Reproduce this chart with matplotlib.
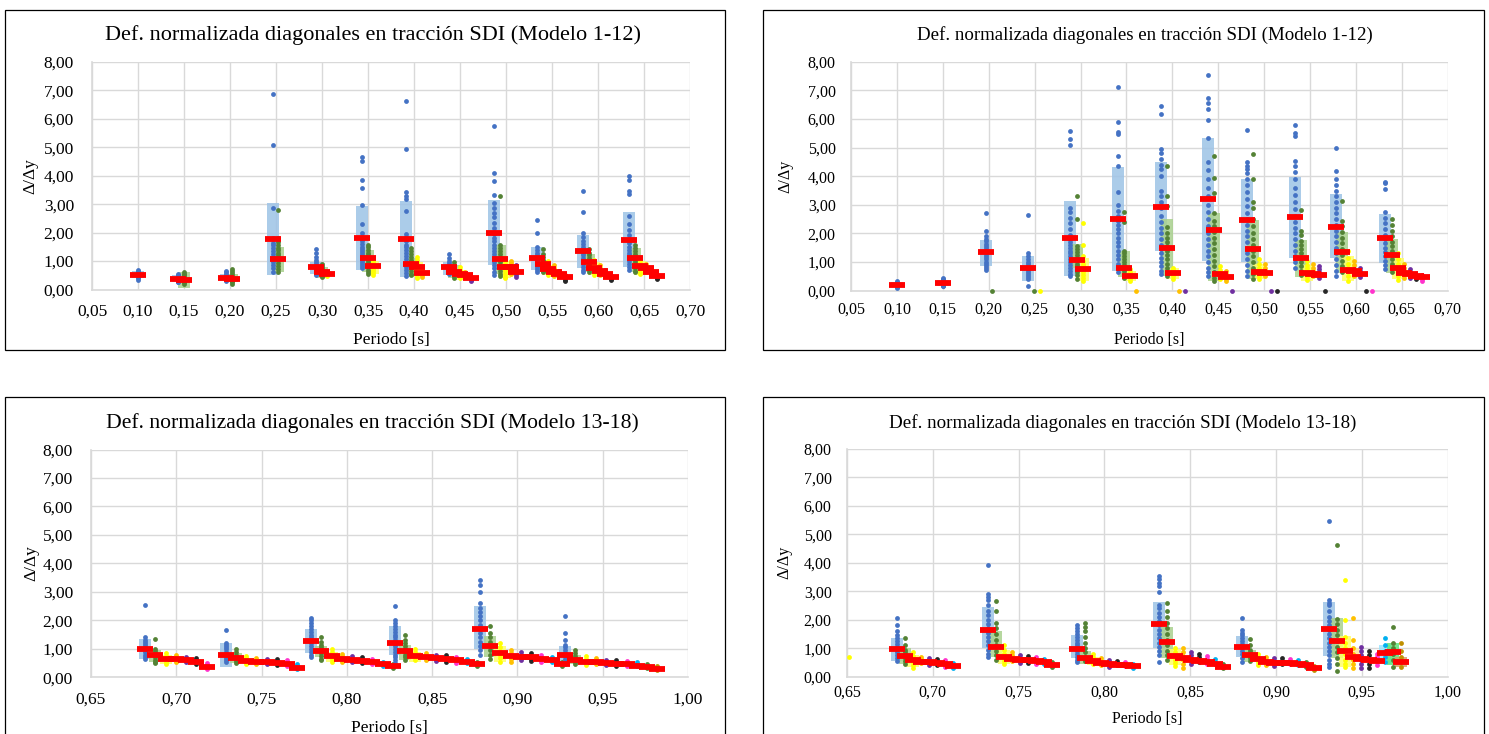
import matplotlib.pyplot as plt
from matplotlib.patches import Rectangle
from matplotlib.ticker import MultipleLocator, FuncFormatter

plt.rcParams['font.family'] = ['Liberation Serif', 'DejaVu Serif']

# colores de cada modelo dentro de un grupo (puntos y cajas)
col_pts = ['#4472C4', '#548235', '#FFFF00', '#FFC000', '#7030A0', '#262626',
           '#FF33CC', '#00B0F0', '#548235', '#BF8F00']
col_caja = ['#9DC3E6', '#A9D18E', '#FFFF66', '#FFE699', '#C9A0DC', '#A6A6A6',
            '#FF99E6', '#9BE3FF', '#5CE67A', '#D9A066']

# ---------------- Modelo 1-12, lado izquierdo ----------------
tl_x0 = [0.100, 0.1435, 0.196, 0.2467, 0.2935, 0.3435, 0.391, 0.4377, 0.4873, 0.534, 0.5841, 0.634]
tl_medias = [
    [0.52],
    [0.36, 0.32],
    [0.42, 0.38],
    [1.77, 1.08],
    [0.78, 0.63, 0.54],
    [1.81, 1.10, 0.82],
    [1.77, 0.89, 0.79, 0.57],
    [0.79, 0.63, 0.56, 0.52, 0.40],
    [1.97, 1.06, 0.80, 0.78, 0.61],
    [1.10, 0.89, 0.73, 0.61, 0.56, 0.45],
    [1.35, 0.97, 0.75, 0.64, 0.55, 0.43],
    [1.74, 1.10, 0.81, 0.74, 0.61, 0.48],
]
tl_cajas = [
    [(0.40, 0.65)],
    [(0.25, 0.50), (0.05, 0.60)],
    [(0.30, 0.55), (0.25, 0.55)],
    [(0.50, 3.03), (0.63, 1.51)],
    [(0.55, 0.95), (0.42, 0.80)],
    [(0.68, 2.92), (0.60, 1.40), (0.55, 1.00)],
    [(0.43, 3.11), (0.55, 1.10), (0.45, 0.95)],
    [(0.50, 0.95), (0.40, 0.85), (0.35, 0.70)],
    [(0.86, 3.13), (0.53, 1.58), (0.40, 1.00)],
    [(0.70, 1.49), (0.60, 1.05), (0.50, 0.85)],
    [(0.75, 1.90), (0.60, 1.25), (0.50, 0.95)],
    [(0.79, 2.71), (0.60, 1.45), (0.50, 1.00)],
]
tl_puntos = [
    [[0.35, 0.40, 0.43, 0.46, 0.48, 0.50, 0.52, 0.54, 0.56, 0.58, 0.60, 0.63, 0.66, 0.70]],
    [[0.25, 0.28, 0.30, 0.32, 0.35, 0.38, 0.40, 0.42, 0.45, 0.48, 0.52, 0.55],
     [0.20, 0.25, 0.28, 0.32, 0.35, 0.40, 0.45, 0.50, 0.55, 0.60]],
    [[0.30, 0.33, 0.36, 0.40, 0.43, 0.46, 0.50, 0.55, 0.62, 0.66],
     [0.20, 0.25, 0.30, 0.35, 0.40, 0.45, 0.50, 0.58, 0.66, 0.72]],
    [[6.87, 5.07, 2.87, 1.80, 1.65, 1.55, 1.45, 1.35, 1.25, 1.15, 1.05, 0.95, 0.85, 0.75, 0.62],
     [2.79, 1.80, 1.68, 1.55, 1.45, 1.38, 1.30, 1.22, 1.12, 1.02, 0.92, 0.82, 0.72, 0.62]],
    [[1.42, 1.28, 1.15, 1.02, 0.95, 0.88, 0.82, 0.76, 0.70, 0.62, 0.55, 0.50],
     [0.90, 0.82, 0.75, 0.68, 0.62, 0.55, 0.48, 0.45],
     [0.62, 0.55, 0.50, 0.47]],
    [[4.67, 4.52, 3.85, 3.57, 2.96, 2.29, 2.00, 1.80, 1.70, 1.60, 1.50, 1.42, 1.35, 1.28, 1.20,
      1.12, 1.05, 0.98, 0.90, 0.82, 0.75],
     [1.55, 1.48, 1.38, 1.30, 1.22, 1.15, 1.08, 1.00, 0.92, 0.85, 0.78, 0.70, 0.62, 0.55],
     [1.05, 0.95, 0.88, 0.80, 0.72, 0.65, 0.58, 0.52]],
    [[6.62, 4.95, 3.43, 3.30, 3.18, 2.75, 1.95, 1.85, 1.70, 1.58, 1.48, 1.38, 1.28, 1.18, 1.08,
      0.98, 0.88, 0.78, 0.68, 0.58, 0.48],
     [1.45, 1.35, 1.25, 1.15, 1.05, 0.95, 0.85, 0.75, 0.65, 0.55, 0.50],
     [1.15, 1.05, 0.95, 0.85, 0.75, 0.65, 0.55, 0.45, 0.40],
     [0.72, 0.65, 0.58, 0.50, 0.45]],
    [[1.26, 1.12, 1.00, 0.92, 0.85, 0.78, 0.72, 0.66, 0.60, 0.55],
     [0.95, 0.85, 0.78, 0.70, 0.62, 0.55, 0.48, 0.42],
     [0.80, 0.70, 0.62, 0.55, 0.48, 0.40],
     [0.62, 0.55, 0.50, 0.45],
     [0.45, 0.40, 0.35, 0.30]],
    [[5.76, 4.08, 3.80, 3.31, 3.05, 2.85, 2.70, 2.55, 2.35, 2.15, 1.95, 1.82, 1.70, 1.58, 1.45,
      1.35, 1.25, 1.15, 1.05, 0.95, 0.85, 0.75, 0.62, 0.52],
     [3.29, 1.55, 1.45, 1.35, 1.25, 1.15, 1.05, 0.95, 0.85, 0.75, 0.65, 0.55, 0.48],
     [1.10, 1.00, 0.90, 0.80, 0.72, 0.65, 0.55, 0.45, 0.40],
     [1.00, 0.92, 0.85, 0.78, 0.70, 0.62, 0.55],
     [0.85, 0.75, 0.65, 0.58, 0.50, 0.45]],
    [[2.46, 1.98, 1.50, 1.40, 1.30, 1.20, 1.12, 1.05, 0.98, 0.90, 0.82, 0.75, 0.68, 0.60],
     [1.44, 1.25, 1.15, 1.05, 0.95, 0.88, 0.80, 0.72, 0.65, 0.60],
     [1.00, 0.90, 0.80, 0.72, 0.65, 0.58, 0.52],
     [0.85, 0.75, 0.68, 0.60, 0.52, 0.48],
     [0.65, 0.58, 0.52, 0.48],
     [0.50, 0.42, 0.35, 0.31]],
    [[3.47, 2.72, 2.00, 1.85, 1.72, 1.60, 1.50, 1.40, 1.30, 1.20, 1.10, 1.00, 0.90, 0.80, 0.70, 0.62],
     [1.42, 1.30, 1.20, 1.10, 1.00, 0.92, 0.85, 0.78, 0.70, 0.62],
     [1.05, 0.95, 0.85, 0.75, 0.68, 0.60, 0.52],
     [0.85, 0.75, 0.68, 0.60, 0.52],
     [0.68, 0.60, 0.55, 0.48],
     [0.48, 0.42, 0.38, 0.35]],
    [[3.98, 3.84, 3.45, 3.35, 2.58, 2.30, 2.10, 1.90, 1.75, 1.62, 1.50, 1.40, 1.30, 1.20, 1.10,
      1.00, 0.90, 0.80, 0.70],
     [1.55, 1.45, 1.35, 1.25, 1.15, 1.05, 0.95, 0.85, 0.75, 0.65, 0.60],
     [1.10, 1.00, 0.90, 0.80, 0.72, 0.62, 0.55],
     [0.90, 0.82, 0.75, 0.68, 0.60],
     [0.72, 0.65, 0.58, 0.52],
     [0.52, 0.45, 0.40, 0.37]],
]

# ---------------- Modelo 1-12, lado derecho ----------------
tr_x0 = [0.100, 0.150, 0.1967, 0.2427, 0.2891, 0.3405, 0.3876, 0.4389, 0.4811, 0.5333, 0.5783, 0.6322]
tr_medias = [
    [0.21],
    [0.28],
    [1.34, None],
    [0.78, None, None],
    [1.83, 1.06, 0.75],
    [2.52, 0.80, 0.50, None],
    [2.94, 1.50, 0.61, None, None],
    [3.22, 2.12, 0.58, 0.48, None],
    [2.47, 1.45, 0.66, 0.61, None, None],
    [2.58, 1.13, 0.63, 0.60, 0.55, None],
    [2.24, 1.36, 0.72, 0.68, 0.57, None, None],
    [1.83, 1.24, 0.78, 0.63, 0.57, 0.52, 0.49],
]
tr_cajas = [
    [(0.12, 0.32)],
    [(0.18, 0.38)],
    [(0.87, 1.77)],
    [(0.35, 1.20)],
    [(0.52, 3.14), (0.78, 1.62), (0.35, 1.13)],
    [(0.70, 4.31), (0.49, 1.38), (0.35, 0.70)],
    [(1.37, 4.50), (0.52, 2.51), (0.40, 0.80)],
    [(1.05, 5.34), (0.34, 2.71)],
    [(1.01, 3.91), (0.40, 2.47), (0.40, 0.95)],
    [(1.15, 3.98), (0.47, 1.77), (0.35, 0.90)],
    [(1.13, 3.38), (0.63, 2.05), (0.35, 1.20)],
    [(0.96, 2.68), (0.61, 1.81), (0.40, 1.15)],
]
tr_puntos = [
    [[0.08, 0.12, 0.15, 0.18, 0.20, 0.22, 0.25, 0.28, 0.31, 0.35]],
    [[0.15, 0.18, 0.21, 0.24, 0.27, 0.30, 0.33, 0.36, 0.40, 0.45]],
    [[2.73, 2.10, 1.92, 1.82, 1.72, 1.62, 1.55, 1.48, 1.40, 1.32, 1.25, 1.18, 1.10, 1.02, 0.95,
      0.88, 0.80, 0.72],
     [0.0]],
    [[2.66, 1.33, 1.20, 1.10, 1.00, 0.92, 0.85, 0.78, 0.70, 0.62, 0.55, 0.48, 0.40, 0.16],
     [0.0], [0.0]],
    [[5.58, 5.30, 5.09, 2.90, 2.75, 2.55, 2.35, 2.15, 1.95, 1.80, 1.70, 1.60, 1.50, 1.40, 1.30,
      1.20, 1.10, 1.00, 0.90, 0.80, 0.70, 0.60, 0.52],
     [3.32, 2.52, 1.55, 1.45, 1.35, 1.25, 1.15, 1.05, 0.95, 0.85, 0.75, 0.65, 0.55, 0.41],
     [2.37, 1.59, 1.20, 1.05, 0.95, 0.85, 0.75, 0.65, 0.55, 0.45, 0.35]],
    [[7.12, 5.90, 5.55, 5.48, 4.71, 4.35, 3.45, 3.00, 2.80, 2.60, 2.45, 2.30, 2.15, 2.00, 1.85,
      1.70, 1.55, 1.40, 1.25, 1.10, 0.95, 0.80, 0.65],
     [2.75, 2.40, 1.40, 1.30, 1.20, 1.10, 1.00, 0.90, 0.80, 0.70, 0.60, 0.50, 0.45],
     [0.75, 0.65, 0.58, 0.50, 0.42, 0.35],
     [0.0]],
    [[6.46, 6.18, 4.94, 4.80, 4.60, 4.40, 4.25, 4.00, 3.50, 3.30, 3.10, 2.90, 2.60, 2.40, 2.20,
      2.00, 1.80, 1.60, 1.45, 1.30, 1.15, 1.00, 0.85, 0.70, 0.60],
     [4.37, 3.30, 2.97, 2.22, 2.00, 1.85, 1.70, 1.55, 1.40, 1.25, 1.10, 0.95, 0.80, 0.65, 0.52],
     [0.80, 0.72, 0.65, 0.58, 0.50, 0.42],
     [0.0], [0.0]],
    [[7.53, 6.73, 6.55, 6.34, 5.95, 5.35, 4.50, 4.20, 3.90, 3.60, 3.30, 3.00, 2.75, 2.50, 2.25,
      2.00, 1.80, 1.60, 1.40, 1.20, 1.00, 0.80, 0.65, 0.50],
     [4.69, 3.92, 3.40, 2.70, 2.45, 2.25, 2.05, 1.85, 1.65, 1.45, 1.25, 1.05, 0.85, 0.65, 0.45, 0.35],
     [0.85, 0.72, 0.62, 0.55, 0.48, 0.40],
     [0.70, 0.60, 0.50, 0.42, 0.35],
     [0.0]],
    [[5.62, 4.49, 4.35, 4.25, 4.10, 3.90, 3.70, 3.45, 3.20, 2.95, 2.70, 2.50, 2.30, 2.10, 1.90,
      1.70, 1.50, 1.30, 1.10, 0.90, 0.70, 0.53],
     [4.78, 3.91, 3.10, 2.90, 2.50, 2.25, 2.00, 1.80, 1.60, 1.40, 1.20, 1.00, 0.80, 0.60, 0.40],
     [1.10, 0.95, 0.80, 0.70, 0.60, 0.50, 0.42],
     [0.95, 0.80, 0.70, 0.60, 0.50],
     [0.0], [0.0]],
    [[5.78, 5.50, 5.41, 4.53, 4.35, 4.15, 3.90, 3.60, 3.35, 3.10, 2.85, 2.60, 2.40, 2.20, 2.00,
      1.80, 1.60, 1.40, 1.20, 1.00, 0.80],
     [2.82, 2.10, 1.95, 1.75, 1.60, 1.45, 1.30, 1.15, 1.00, 0.85, 0.70, 0.55],
     [1.05, 0.90, 0.78, 0.68, 0.58, 0.48, 0.38],
     [0.95, 0.80, 0.70, 0.60, 0.50],
     [0.85, 0.75, 0.65, 0.55, 0.45],
     [0.0]],
    [[4.97, 4.19, 3.90, 3.70, 3.50, 3.30, 3.10, 2.90, 2.70, 2.50, 2.30, 2.10, 1.90, 1.70, 1.50,
      1.30, 1.10, 0.90, 0.70, 0.50],
     [3.15, 2.45, 2.25, 2.05, 1.85, 1.65, 1.45, 1.25, 1.05, 0.85, 0.65],
     [1.40, 1.15, 0.95, 0.80, 0.65, 0.50, 0.35],
     [1.05, 0.90, 0.75, 0.62, 0.50],
     [0.78, 0.68, 0.58, 0.48],
     [0.0], [0.0]],
    [[3.81, 3.75, 3.57, 2.75, 2.55, 2.35, 2.15, 1.95, 1.80, 1.65, 1.50, 1.35, 1.20, 1.05, 0.90, 0.75],
     [2.51, 2.30, 2.10, 1.90, 1.70, 1.55, 1.40, 1.25, 1.10, 0.95, 0.80, 0.65],
     [1.30, 1.10, 0.95, 0.80, 0.65, 0.50, 0.38],
     [0.95, 0.80, 0.68, 0.55, 0.45],
     [0.75, 0.65, 0.55, 0.45],
     [0.55, 0.45, 0.40],
     [0.55, 0.48, 0.42, 0.35]],
]

# ---------------- Modelo 13-18, lado izquierdo ----------------
bl_x0 = [0.6818, 0.729, 0.779, 0.8282, 0.878, 0.928]
bl_medias = [
    [1.01, 0.78, 0.64, 0.64, 0.61, 0.52, 0.37],
    [0.79, 0.69, 0.58, 0.54, 0.52, 0.50, 0.46, 0.34],
    [1.28, 0.93, 0.75, 0.65, 0.62, 0.58, 0.55, 0.48, 0.40],
    [1.22, 0.92, 0.75, 0.70, 0.68, 0.65, 0.60, 0.55, 0.45],
    [1.68, 1.10, 0.85, 0.75, 0.72, 0.70, 0.65, 0.60, 0.45],
    [0.78, 0.60, 0.55, 0.52, 0.50, 0.48, 0.45, 0.40, 0.35, 0.30],
]
bl_cajas = [
    [(0.64, 1.34), (0.55, 0.95), (0.45, 0.80)],
    [(0.37, 1.19), (0.50, 0.85)],
    [(0.84, 1.68), (0.70, 1.10), (0.55, 0.90)],
    [(0.80, 1.80), (0.60, 1.15), (0.55, 0.90)],
    [(1.00, 2.50), (0.70, 1.45), (0.55, 1.10)],
    [(0.50, 1.10), (0.45, 0.80)],
]
bl_puntos = [
    [[2.54, 1.40, 1.32, 1.25, 1.18, 1.10, 1.02, 0.95, 0.88, 0.80, 0.72, 0.65],
     [1.34, 1.00, 0.92, 0.85, 0.78, 0.70, 0.62, 0.55, 0.50],
     [0.85, 0.75, 0.68, 0.60, 0.52, 0.45],
     [0.80, 0.72, 0.65, 0.58, 0.52],
     [0.72, 0.65, 0.58, 0.52],
     [0.68, 0.60, 0.52, 0.45],
     [0.50, 0.42, 0.35, 0.30]],
    [[1.67, 1.20, 1.12, 1.05, 0.98, 0.90, 0.82, 0.75, 0.68, 0.60, 0.52],
     [1.01, 0.88, 0.80, 0.72, 0.65, 0.58, 0.50],
     [0.75, 0.68, 0.60, 0.52, 0.45],
     [0.68, 0.60, 0.52, 0.45],
     [0.65, 0.58, 0.50, 0.45],
     [0.65, 0.58, 0.50, 0.44],
     [0.60, 0.52, 0.45, 0.38],
     [0.45, 0.38, 0.30]],
    [[2.10, 2.00, 1.90, 1.80, 1.70, 1.60, 1.50, 1.40, 1.30, 1.20, 1.10, 1.00, 0.90, 0.80, 0.70],
     [1.40, 1.25, 1.15, 1.05, 0.95, 0.85, 0.75, 0.65, 0.60],
     [1.00, 0.90, 0.80, 0.72, 0.65, 0.55],
     [0.82, 0.75, 0.68, 0.60, 0.52],
     [0.75, 0.68, 0.60, 0.52],
     [0.72, 0.65, 0.58, 0.50],
     [0.65, 0.58, 0.50, 0.45],
     [0.55, 0.48, 0.40],
     [0.45, 0.38, 0.32]],
    [[2.52, 2.00, 1.90, 1.80, 1.70, 1.60, 1.50, 1.40, 1.30, 1.20, 1.10, 1.00, 0.90, 0.80, 0.70,
      0.60, 0.50],
     [1.50, 1.30, 1.20, 1.10, 1.00, 0.90, 0.80, 0.70, 0.60],
     [1.00, 0.90, 0.80, 0.70, 0.60],
     [0.85, 0.78, 0.70, 0.62],
     [0.80, 0.72, 0.65, 0.58],
     [0.78, 0.70, 0.62, 0.55],
     [0.72, 0.65, 0.58, 0.50],
     [0.65, 0.58, 0.50],
     [0.52, 0.45, 0.38]],
    [[3.40, 3.25, 3.00, 2.60, 2.45, 2.30, 2.15, 2.00, 1.85, 1.70, 1.55, 1.40, 1.25, 1.10, 0.95, 0.80],
     [1.80, 1.55, 1.40, 1.25, 1.10, 0.95, 0.80, 0.65],
     [1.20, 1.05, 0.92, 0.80, 0.68, 0.55],
     [0.95, 0.85, 0.75, 0.65, 0.55],
     [0.90, 0.80, 0.70, 0.60],
     [0.85, 0.75, 0.65, 0.58],
     [0.80, 0.70, 0.62, 0.55],
     [0.72, 0.62, 0.55],
     [0.55, 0.45, 0.38]],
    [[2.15, 1.55, 1.30, 1.15, 1.05, 0.95, 0.85, 0.75, 0.65, 0.55, 0.45],
     [0.95, 0.85, 0.75, 0.65, 0.55, 0.48],
     [0.75, 0.65, 0.58, 0.50, 0.42],
     [0.68, 0.60, 0.52, 0.45],
     [0.62, 0.55, 0.48, 0.42],
     [0.60, 0.52, 0.45, 0.40],
     [0.58, 0.50, 0.42, 0.38],
     [0.52, 0.45, 0.38],
     [0.45, 0.38, 0.32],
     [0.38, 0.32, 0.26]],
]

# ---------------- Modelo 13-18, lado derecho ----------------
br_x0 = [0.679, 0.732, 0.784, 0.8318, 0.8801, 0.9308]
br_medias = [
    [0.97, 0.72, 0.58, 0.52, 0.50, 0.48, 0.45, 0.38],
    [1.64, 1.05, 0.70, 0.62, 0.58, 0.58, 0.55, 0.50, 0.40],
    [0.98, 0.65, 0.56, 0.47, 0.45, 0.42, 0.40, 0.38],
    [1.84, 1.21, 0.74, 0.65, 0.59, 0.55, 0.52, 0.45, 0.35],
    [1.05, 0.76, 0.61, 0.53, 0.48, 0.48, 0.48, 0.45, 0.40, 0.32],
    [1.68, 1.26, 0.91, 0.70, 0.61, 0.58, 0.56, 0.82, 0.85, 0.52],
]
br_cajas = [
    [(0.55, 1.35), (0.45, 1.00), (0.35, 0.75)],
    [(1.00, 2.45), (0.70, 1.60), (0.45, 0.95)],
    [(0.65, 1.45), (0.45, 0.90), (0.40, 0.70)],
    [(1.00, 2.63), (0.65, 1.73), (0.40, 0.98)],
    [(0.68, 1.42), (0.50, 0.95)],
    [(0.74, 2.63), (0.65, 2.05), (0.33, 1.44), (0.55, 1.00), None, None, None,
     (0.45, 1.10), (0.40, 1.20), (0.35, 0.70)],
]
br_puntos = [
    [[2.05, 1.80, 1.60, 1.45, 1.35, 1.25, 1.15, 1.05, 0.95, 0.85, 0.75, 0.65, 0.55],
     [1.35, 1.10, 0.95, 0.85, 0.75, 0.65, 0.55, 0.45],
     [0.85, 0.72, 0.62, 0.52, 0.42, 0.30],
     [0.70, 0.62, 0.55, 0.48],
     [0.65, 0.58, 0.50, 0.42],
     [0.62, 0.55, 0.48, 0.40],
     [0.58, 0.50, 0.42, 0.35],
     [0.48, 0.40, 0.32]],
    [[3.92, 2.90, 2.80, 2.70, 2.50, 2.30, 2.15, 2.00, 1.85, 1.70, 1.55, 1.40, 1.25, 1.10, 0.95,
      0.80, 0.70],
     [2.65, 2.30, 1.90, 1.70, 1.50, 1.30, 1.10, 0.90, 0.75, 0.60],
     [1.10, 0.95, 0.80, 0.68, 0.55, 0.45],
     [0.85, 0.75, 0.65, 0.55],
     [0.75, 0.65, 0.55, 0.48],
     [0.72, 0.62, 0.55, 0.48],
     [0.70, 0.60, 0.52, 0.45],
     [0.62, 0.52, 0.45],
     [0.50, 0.42, 0.35]],
    [[1.80, 1.70, 1.60, 1.50, 1.40, 1.30, 1.20, 1.10, 1.00, 0.90, 0.80, 0.70, 0.60, 0.50],
     [1.87, 1.75, 1.60, 1.40, 1.20, 1.00, 0.85, 0.70, 0.55],
     [0.80, 0.70, 0.60, 0.52, 0.45],
     [0.65, 0.55, 0.48, 0.40],
     [0.58, 0.50, 0.42, 0.35],
     [0.55, 0.48, 0.40],
     [0.52, 0.45, 0.38],
     [0.45, 0.38, 0.32]],
    [[3.53, 3.42, 3.30, 3.18, 2.96, 2.52, 2.40, 2.25, 2.10, 1.95, 1.80, 1.65, 1.50, 1.35, 1.20,
      1.05, 0.90, 0.75, 0.51],
     [2.60, 2.30, 2.10, 1.90, 1.70, 1.50, 1.30, 1.10, 0.90, 0.75, 0.60],
     [1.00, 0.85, 0.72, 0.60, 0.48, 0.38],
     [1.00, 0.85, 0.72, 0.60, 0.45, 0.32],
     [0.85, 0.75, 0.65, 0.55, 0.45],
     [0.80, 0.70, 0.60, 0.50],
     [0.72, 0.62, 0.52, 0.45],
     [0.62, 0.52, 0.45],
     [0.45, 0.38, 0.32]],
    [[2.06, 1.65, 1.55, 1.45, 1.35, 1.25, 1.15, 1.00, 0.90, 0.80, 0.65, 0.53],
     [1.31, 1.10, 0.95, 0.85, 0.75, 0.65, 0.55],
     [0.80, 0.70, 0.60, 0.50, 0.40],
     [0.70, 0.60, 0.50, 0.40],
     [0.65, 0.55, 0.45, 0.38],
     [0.65, 0.55, 0.45],
     [0.62, 0.52, 0.45],
     [0.60, 0.50, 0.42],
     [0.50, 0.42, 0.35],
     [0.38, 0.30, 0.25]],
    [[5.45, 2.69, 2.60, 2.50, 2.30, 2.10, 1.95, 1.80, 1.65, 1.50, 1.35, 1.20, 1.05, 0.90, 0.75,
      0.60, 0.45, 0.35],
     [4.63, 2.02, 1.85, 1.65, 1.45, 1.25, 1.05, 0.85, 0.65, 0.45, 0.20],
     [3.39, 2.00, 1.40, 1.20, 1.00, 0.80, 0.60, 0.45, 0.33],
     [2.05, 1.30, 1.00, 0.80, 0.60, 0.45, 0.30],
     [1.05, 0.90, 0.75, 0.60, 0.45, 0.30],
     [0.90, 0.75, 0.60, 0.45, 0.32],
     [0.80, 0.68, 0.55, 0.42],
     [1.35, 1.10, 0.90, 0.70, 0.50],
     [1.73, 1.20, 1.00, 0.80, 0.60, 0.35],
     [1.20, 0.90, 0.70, 0.50, 0.35]],
]
br_suelto = ([0.651], [0.70])  # punto aislado amarillo junto al eje

titulo_a = 'Def. normalizada diagonales en tracción SDI (Modelo 1-12)'
titulo_b = 'Def. normalizada diagonales en tracción SDI (Modelo 13-18)'

W, H = 1489, 734
fig = plt.figure(figsize=(W / 100, H / 100), dpi=100)


def caja_px(x0, y0, x1, y1):
    # rectángulo en píxeles (origen arriba a la izquierda) -> coords de figura
    return [x0 / W, 1 - y1 / H, (x1 - x0) / W, (y1 - y0) / H]


coma = FuncFormatter(lambda v, _: f'{v:.2f}'.replace('.', ','))


def panel(rect, xlim, x0s, paso, medias, cajas, puntos, fs, ypad, xpad, ylp, xlp):
    ax = fig.add_axes(caja_px(*rect))
    ax.set_xlim(*xlim)
    ax.set_ylim(0, 8)
    ax.xaxis.set_major_locator(MultipleLocator(0.05))
    ax.yaxis.set_major_locator(MultipleLocator(1))
    ax.xaxis.set_major_formatter(coma)
    ax.yaxis.set_major_formatter(coma)
    ax.grid(True, color='#D9D9D9', lw=1.0)
    ax.set_axisbelow(True)
    for s in ['top', 'right']:
        ax.spines[s].set_visible(False)
    for s in ['left', 'bottom']:
        ax.spines[s].set_color('#D9D9D9')
        ax.spines[s].set_linewidth(1.2)
    ax.tick_params(axis='y', length=0, labelsize=fs, pad=ypad)
    ax.tick_params(axis='x', length=0, labelsize=fs, pad=xpad)
    ax.set_ylabel('Δ/Δy', fontsize=fs, labelpad=ylp)
    ax.set_xlabel('Periodo [s]', fontsize=fs, labelpad=xlp)

    # ancho de un píxel en unidades del eje x
    upx = (xlim[1] - xlim[0]) / (rect[2] - rect[0])
    for g, xb in enumerate(x0s):
        for k, pts in enumerate(puntos[g]):
            x = xb + k * paso
            cj = cajas[g][k] if k < len(cajas[g]) else None
            if cj is not None:
                ax.add_patch(Rectangle((x - 6 * upx, cj[0]), 12 * upx, cj[1] - cj[0],
                                       facecolor=col_caja[k], edgecolor='none',
                                       alpha=0.85, zorder=2))
            ax.scatter([x] * len(pts), pts, s=12, color=col_pts[k], lw=0,
                       zorder=3, clip_on=False)
            m = medias[g][k] if k < len(medias[g]) else None
            if m is not None:
                ax.plot([x - 8 * upx, x + 8 * upx], [m, m], color='#FF0000', lw=4.2,
                        solid_capstyle='butt', zorder=4)
    return ax


panel((92, 62, 690, 289.5), (0.05, 0.70), tl_x0, 0.006, tl_medias, tl_cajas, tl_puntos,
      12.5, 13, 10, 4, 9)
panel((851, 61.7, 1447.7, 290.7), (0.05, 0.70), tr_x0, 0.0066, tr_medias, tr_cajas, tr_puntos,
      11.5, 11, 8, 10, 10)
panel((91, 449.5, 688, 677.3), (0.65, 1.00), bl_x0, 0.006, bl_medias, bl_cajas, bl_puntos,
      12.5, 13, 10, 2, 9)
ax_br = panel((847, 448.7, 1447.5, 676.7), (0.65, 1.00), br_x0, 0.0047, br_medias, br_cajas,
              br_puntos, 11.5, 11, 6, 8, 7)
ax_br.scatter(*br_suelto, s=12, color=col_pts[2], lw=0, zorder=3, clip_on=False)

# títulos
fig.text(373 / W, 1 - 35 / H, titulo_a, ha='center', va='center', fontsize=16)
fig.text(1145 / W, 1 - 35 / H, titulo_a, ha='center', va='center', fontsize=13.6)
fig.text(372 / W, 1 - 423 / H, titulo_b, ha='center', va='center', fontsize=15.6)
fig.text(1123 / W, 1 - 423 / H, titulo_b, ha='center', va='center', fontsize=13.7)

# marcos de cada gráfico
for x0, y0, x1, y1 in [(5, 10, 725, 350), (763, 10, 1484, 350),
                       (5, 397, 725, 745), (763, 397, 1484, 745)]:
    fig.add_artist(Rectangle((x0 / W, 1 - y1 / H), (x1 - x0) / W, (y1 - y0) / H,
                             transform=fig.transFigure, fill=False,
                             edgecolor='black', lw=0.9))

fig.savefig('out.png', dpi=100)
